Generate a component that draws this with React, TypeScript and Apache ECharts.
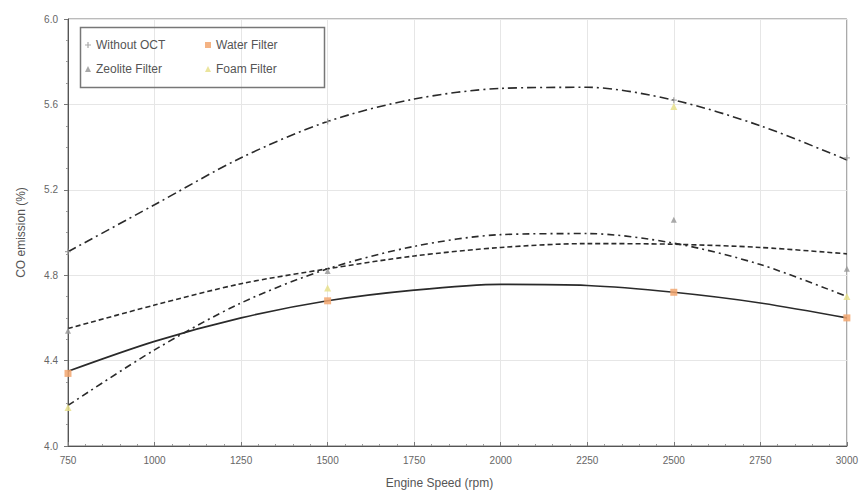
import React, { useEffect, useRef } from "react";
import * as echarts from "echarts";

// Fitted-curve values
const fitSpeeds = [750, 1000, 1250, 1500, 1750, 2000, 2250, 2500, 2750, 3000];
const withoutOctFit = [4.91, 5.13, 5.35, 5.52, 5.625, 5.675, 5.68, 5.62, 5.5, 5.34];
const foamFit = [4.19, 4.45, 4.67, 4.83, 4.935, 4.99, 4.995, 4.95, 4.85, 4.7];
const zeoliteFit = [4.55, 4.66, 4.76, 4.83, 4.89, 4.93, 4.948, 4.945, 4.93, 4.9];
const waterFit = [4.35, 4.49, 4.6, 4.68, 4.73, 4.757, 4.752, 4.72, 4.67, 4.6];

// Measured points
const pointSpeeds = [750, 1500, 2500, 3000];
const withoutOctPoints = [4.91, 5.52, 5.62, 5.35];
const waterPoints = [4.34, 4.68, 4.72, 4.6];
const zeolitePoints = [4.54, 4.82, 5.06, 4.83];
const foamPoints = [4.18, 4.74, 5.59, 4.7];

const xTicks = { min: 750, max: 3000, interval: 250 };
const yTicks = { min: 4.0, max: 6.0, interval: 0.4 };

const PLUS = "path://M4,0H6V4H10V6H6V10H4V6H0V4H4Z";
const FONT = "Liberation Sans, Arial, sans-serif";

function pairs(xs: number[], ys: number[]) {
  return xs.map((x, i) => [x, ys[i]]);
}

export default function App() {
  const ref = useRef<HTMLDivElement>(null);
  useEffect(() => {
    if (!ref.current) return;
    const chart = echarts.init(ref.current, undefined, { renderer: "svg" });
    const lineSeries = (name: string, data: number[], type: any, width = 1.6) => ({
      name,
      type: "line",
      smooth: 0.3,
      showSymbol: false,
      symbol: "none",
      data: pairs(fitSpeeds, data),
      lineStyle: { color: "#2a2a2a", width, type },
      z: 3,
      silent: true,
    });
    const pointSeries = (name: string, data: number[], symbol: string, color: string, size: number) => ({
      name,
      type: "scatter",
      symbol,
      symbolSize: size,
      data: pairs(pointSpeeds, data),
      itemStyle: { color, opacity: 0.85 },
      z: 4,
    });
    chart.setOption({
      animation: false,
      backgroundColor: "#ffffff",
      textStyle: { fontFamily: FONT },
      grid: { left: 68, right: 10, top: 19, bottom: 46, show: true, borderColor: "#777", borderWidth: 1 },
      xAxis: {
        type: "value",
        ...xTicks,
        name: "Engine Speed (rpm)",
        nameLocation: "middle",
        nameGap: 31,
        nameTextStyle: { fontSize: 12, color: "#555", fontFamily: FONT, padding: [0, 36, 0, 0] },
        axisLine: { show: true, lineStyle: { color: "#555" } },
        axisTick: { show: true, inside: true, length: 4, lineStyle: { color: "#777" } },
        minorTick: { show: true, splitNumber: 5, length: 2, lineStyle: { color: "#999" } },
        axisLabel: { fontSize: 10, color: "#666", margin: 9, formatter: (v: number) => String(v) },
        splitLine: { show: true, lineStyle: { color: "#e6e6e6" } },
      },
      yAxis: {
        type: "value",
        ...yTicks,
        name: "CO emission (%)",
        nameLocation: "middle",
        nameGap: 41,
        nameTextStyle: { fontSize: 12, color: "#555", fontFamily: FONT },
        axisLine: { show: true, lineStyle: { color: "#555" } },
        axisTick: { show: true, length: 4, lineStyle: { color: "#777" } },
        minorTick: { show: true, splitNumber: 4, length: 2, lineStyle: { color: "#999" } },
        axisLabel: { fontSize: 10, color: "#666", margin: 10, formatter: (v: number) => v.toFixed(1) },
        splitLine: { show: true, lineStyle: { color: "#e6e6e6" } },
      },
      legend: [
        {
          left: 80,
          top: 34,
          orient: "vertical",
          itemGap: 12,
          itemWidth: 6,
          itemHeight: 6,
          data: [
            { name: "Without OCT", icon: PLUS },
            { name: "Zeolite Filter", icon: "triangle" },
          ],
          textStyle: { fontSize: 12, color: "#555", fontFamily: FONT },
        },
        {
          left: 200,
          top: 34,
          orient: "vertical",
          itemGap: 12,
          itemWidth: 6,
          itemHeight: 6,
          data: [
            { name: "Water Filter", icon: "rect" },
            { name: "Foam Filter", icon: "triangle" },
          ],
          textStyle: { fontSize: 12, color: "#555", fontFamily: FONT },
        },
      ],
      graphic: [
        {
          type: "rect",
          left: 78,
          top: 25,
          shape: { width: 244, height: 60 },
          style: { fill: "none", stroke: "#777", lineWidth: 1.5 },
          z: 100,
        },
      ],
      series: [
        lineSeries("Without OCT fit", withoutOctFit, [9, 4, 2, 4]),
        lineSeries("Foam fit", foamFit, [7, 4, 2, 4]),
        lineSeries("Zeolite fit", zeoliteFit, [5, 3]),
        lineSeries("Water fit", waterFit, "solid"),
        pointSeries("Without OCT", withoutOctPoints, PLUS, "#9a9a9a", 6),
        pointSeries("Water Filter", waterPoints, "rect", "#f2a66e", 7),
        pointSeries("Zeolite Filter", zeolitePoints, "triangle", "#9a9a9a", 6),
        pointSeries("Foam Filter", foamPoints, "triangle", "#e8e08c", 7),
      ],
    });
    return () => chart.dispose();
  }, []);
  return <div ref={ref} style={{ width: 861, height: 494, position: "absolute", left: 0, top: 0 }} />;
}
